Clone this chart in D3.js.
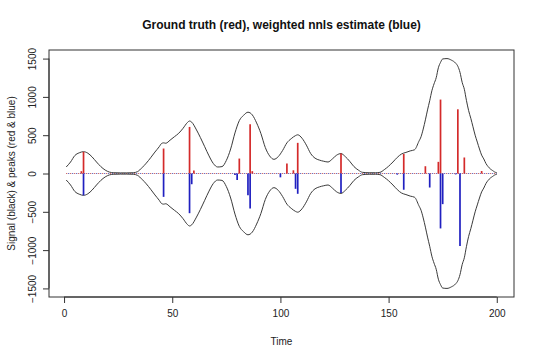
<!DOCTYPE html>
<html>
<head>
<meta charset="utf-8">
<script src="https://cdn.jsdelivr.net/npm/d3@7"></script>
<style>
html,body{margin:0;padding:0;background:#fff;}
svg{display:block;font-family:"Liberation Sans",Arial,sans-serif;}
</style>
</head>
<body>
<svg id="chart" width="540" height="359"></svg>
<script>
// Signal envelope (black)
const sigT = [1,3,5,7,9,11,13,15,17,19,21,23,26,29,32,34,36,38,40,42,44,45,46,47,49,51,53,55,57,58,59,61,63,65,67,69,71,73,75,77,79,81,83,85,87,89,91,93,95,97,99,101,103,105,107,108,110,112,114,116,118,120,122,124,126,128,130,132,134,136,138,141,144,146,148,150,152,154,156,158,160,162,164,165,166,167,168,169,170,171,172,173,174,175,177,179,181,182,183,184,185,186,187,188,189,190,191,192,193,194,195,196,197,198,199,200];
const sigV = [85,150,235,270,285,265,215,150,90,45,18,10,8,8,10,25,75,135,205,280,350,390,400,395,435,480,525,590,665,685,670,580,470,350,230,130,85,90,170,320,530,690,760,800,765,660,520,340,230,185,220,300,400,455,495,505,460,370,260,200,175,160,150,190,240,260,220,160,90,45,15,10,10,15,50,95,150,210,255,275,295,310,420,480,580,700,830,950,1080,1170,1250,1380,1450,1495,1500,1480,1440,1400,1320,1190,1100,950,820,720,610,500,410,320,240,190,130,90,60,40,20,10];

// Ground truth peaks (red)
const truthT = [8,9,46,58,60,81,86,87,103,106,108,128,157,167,173,174,182,185,193];
const truthV = [30,282,326,608,40,195,643,30,130,42,400,261,255,95,152,965,838,209,32];

// Weighted nnls estimate peaks (blue, drawn downward)
const estT = [9,46,58,59,79,80,85,86,100,107,108,128,154,157,169,174,175,181,183];
const estV = [285,305,518,140,20,85,285,456,50,200,265,253,15,212,183,717,400,12,946];

const xTicks = [0,50,100,150,200];
const yTicks = [-1500,-1000,-500,0,500,1000,1500];

const titleText = "Ground truth (red), weighted nnls estimate (blue)";
const xLabel = "Time";
const yLabel = "Signal (black) & peaks (red & blue)";

const svg = d3.select("#chart");
const L = 49, R = 514, T = 50, B = 297;

const xData = [1, 200];
const xPad = 0.04 * (xData[1] - xData[0]);
const x = d3.scaleLinear().domain([xData[0] - xPad, xData[1] + xPad]).range([L, R]);
const yMax = 1550;
const y = d3.scaleLinear().domain([-yMax * 1.04, yMax * 1.04]).range([B, T]);

// zero dotted line (red & blue)
svg.append("line").attr("x1", x(1)).attr("x2", x(200)).attr("y1", y(0)).attr("y2", y(0))
  .attr("stroke", "#c04848").attr("stroke-width", 1).attr("stroke-dasharray", "1,3");
svg.append("line").attr("x1", x(1)).attr("x2", x(200)).attr("y1", y(0)).attr("y2", y(0))
  .attr("stroke", "#4848b0").attr("stroke-width", 1).attr("stroke-dasharray", "1,3").attr("stroke-dashoffset", 2);

// envelope
const sig = sigT.map((t, i) => ({t, v: sigV[i]}));
const line = d3.line().x(d => x(d.t)).curve(d3.curveMonotoneX);
svg.append("path").attr("d", line.y(d => y(d.v))(sig))
  .attr("fill", "none").attr("stroke", "#3a3a3a").attr("stroke-width", 1);
svg.append("path").attr("d", line.y(d => y(-d.v))(sig))
  .attr("fill", "none").attr("stroke", "#3a3a3a").attr("stroke-width", 1);

// spikes
svg.append("g").selectAll("line").data(truthT.map((t, i) => ({t, v: truthV[i]}))).join("line")
  .attr("x1", d => x(d.t)).attr("x2", d => x(d.t))
  .attr("y1", y(0)).attr("y2", d => y(d.v))
  .attr("stroke", "#d42a2a").attr("stroke-width", 1.7);
svg.append("g").selectAll("line").data(estT.map((t, i) => ({t, v: estV[i]}))).join("line")
  .attr("x1", d => x(d.t)).attr("x2", d => x(d.t))
  .attr("y1", y(0)).attr("y2", d => y(-d.v))
  .attr("stroke", "#2020c0").attr("stroke-width", 1.7);

// box
svg.append("rect").attr("x", L).attr("y", T).attr("width", R - L).attr("height", B - T)
  .attr("fill", "none").attr("stroke", "#333").attr("stroke-width", 1);

// x axis
const xa = svg.append("g").attr("transform", `translate(0,${B})`)
  .call(d3.axisBottom(x).tickValues(xTicks).tickSize(6).tickPadding(7).tickFormat(d3.format("d")));
xa.select(".domain").attr("d", `M${x(xTicks[0])},0H${x(xTicks[xTicks.length-1])}`).attr("stroke", "#333");
xa.selectAll(".tick line").attr("stroke", "#333");
xa.selectAll("text").attr("font-size", 10).attr("fill", "#222").attr("font-family", "Liberation Sans, Arial, sans-serif");

// y axis
const ya = svg.append("g").attr("transform", `translate(${L},0)`)
  .call(d3.axisLeft(y).tickValues(yTicks).tickSize(6).tickFormat(d3.format("d")));
ya.select(".domain").attr("d", `M0,${y(yTicks[0])}V${y(yTicks[yTicks.length-1])}`).attr("stroke", "#333");
ya.selectAll(".tick line").attr("stroke", "#333");
ya.selectAll("text")
  .attr("font-size", 10).attr("fill", "#222").attr("font-family", "Liberation Sans, Arial, sans-serif")
  .attr("x", null).attr("dy", null)
  .attr("text-anchor", "middle")
  .attr("transform", "translate(-13.5,0) rotate(-90)");

// labels
svg.append("text").attr("x", (L + R) / 2).attr("y", 29).attr("text-anchor", "middle")
  .attr("font-size", 12).attr("font-weight", "bold").attr("fill", "#111").text(titleText);
svg.append("text").attr("x", (L + R) / 2).attr("y", 344.5).attr("text-anchor", "middle")
  .attr("font-size", 10).attr("fill", "#222").text(xLabel);
svg.append("text").attr("transform", `translate(15,${(T + B) / 2}) rotate(-90)`).attr("text-anchor", "middle")
  .attr("font-size", 10).attr("fill", "#222").text(yLabel);
</script>
</body>
</html>
